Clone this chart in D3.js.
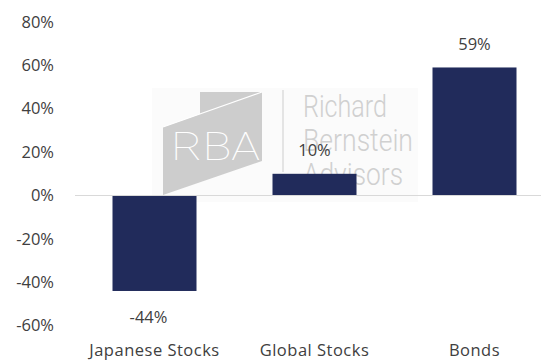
<html>
  <script src="https://cdnjs.cloudflare.com/ajax/libs/d3/7.8.5/d3.min.js"></script>
  <style>
    html, body {
      width: 100%;
      height: 100%;
      padding: 0px;
      margin: 0px;
      background: #fff;
    }
    text {
      font-family: "Open Sans", sans-serif;
      fill: #404040;
    }
  </style>
  <body>
    <svg id="chart" width="541" height="362"></svg>
    <script>
      var categories = ["Japanese Stocks", "Global Stocks", "Bonds"];
      var values = [-44, 10, 59];
      var tickValues = [-60, -40, -20, 0, 20, 40, 60, 80];
      var watermarkLines = ["Richard", "Bernstein", "Advisors"];

      var svg = d3.select("#chart");

      var x = d3.scaleBand()
        .domain(categories)
        .range([74.5, 554.5])
        .paddingInner(0.475)
        .paddingOuter(0.2375);

      var y = d3.scaleLinear()
        .domain([-60, 80])
        .range([325.7, 21.9]);

      // watermark (sits behind the bars)
      var wm = svg.append("g");
      wm.append("rect")
        .attr("x", 152).attr("y", 88)
        .attr("width", 266).attr("height", 114)
        .attr("fill", "#fbfbfb");
      wm.append("polygon")
        .attr("points", "163,127 200,114 200,92 262,92 262,161 163,195")
        .attr("fill", "#cdcdcd");
      wm.append("line")
        .attr("x1", 163).attr("y1", 127).attr("x2", 262).attr("y2", 92)
        .attr("stroke", "#fff").attr("stroke-width", 1.2);
      wm.append("text")
        .attr("x", 171).attr("y", 160)
        .attr("textLength", 89)
        .attr("lengthAdjust", "spacingAndGlyphs")
        .style("font-family", "Roboto")
        .style("font-weight", 100)
        .style("font-size", "39px")
        .style("fill", "#fff")
        .text("RBA");
      wm.append("line")
        .attr("x1", 283).attr("y1", 90).attr("x2", 283).attr("y2", 172)
        .attr("stroke", "#d6d6d6").attr("stroke-width", 1.2);
      wm.selectAll(".wmtext")
        .data(watermarkLines)
        .enter().append("text")
        .attr("class", "wmtext")
        .attr("x", 303)
        .attr("y", (d, i) => 117 + i * 34)
        .attr("textLength", (d, i) => [84, 110, 100][i])
        .attr("lengthAdjust", "spacingAndGlyphs")
        .style("font-family", "Roboto")
        .style("font-weight", 300)
        .style("font-size", "31px")
        .style("fill", "#d0d0d0")
        .text(d => d);

      // y axis labels
      svg.append("g")
        .attr("transform", "translate(54,0)")
        .call(d3.axisLeft(y).tickValues(tickValues).tickSize(0).tickPadding(0).tickFormat(d => d + "%"))
        .call(g => g.select(".domain").remove())
        .selectAll("text")
        .style("font-size", "16.5px")
        .style("fill", "#404040")
        .style("font-family", "Open Sans");

      // bars
      svg.selectAll(".bar")
        .data(values)
        .enter().append("rect")
        .attr("class", "bar")
        .attr("x", (d, i) => x(categories[i]))
        .attr("width", x.bandwidth())
        .attr("y", d => y(Math.max(0, d)))
        .attr("height", d => Math.abs(y(d) - y(0)))
        .attr("fill", "#212b5b");

      // zero line
      svg.append("line")
        .attr("x1", 75).attr("x2", 541)
        .attr("y1", y(0)).attr("y2", y(0))
        .attr("stroke", "#d9d9d9").attr("stroke-width", 1.2);

      // value labels
      svg.selectAll(".val")
        .data(values)
        .enter().append("text")
        .attr("class", "val")
        .attr("x", (d, i) => x(categories[i]) + x.bandwidth() / 2 - (d < 0 ? 6 : 0))
        .attr("y", d => d >= 0 ? y(d) - 22 : y(d) + 28)
        .attr("text-anchor", "middle")
        .attr("dominant-baseline", "middle")
        .style("font-size", "16.5px")
        .text(d => d + "%");

      // category labels
      svg.selectAll(".cat")
        .data(categories)
        .enter().append("text")
        .attr("class", "cat")
        .attr("x", d => x(d) + x.bandwidth() / 2)
        .attr("y", 352)
        .attr("text-anchor", "middle")
        .attr("dominant-baseline", "middle")
        .style("font-size", "16.5px")
        .style("letter-spacing", "0.5px")
        .text(d => d);
    </script>
  </body>
</html>
